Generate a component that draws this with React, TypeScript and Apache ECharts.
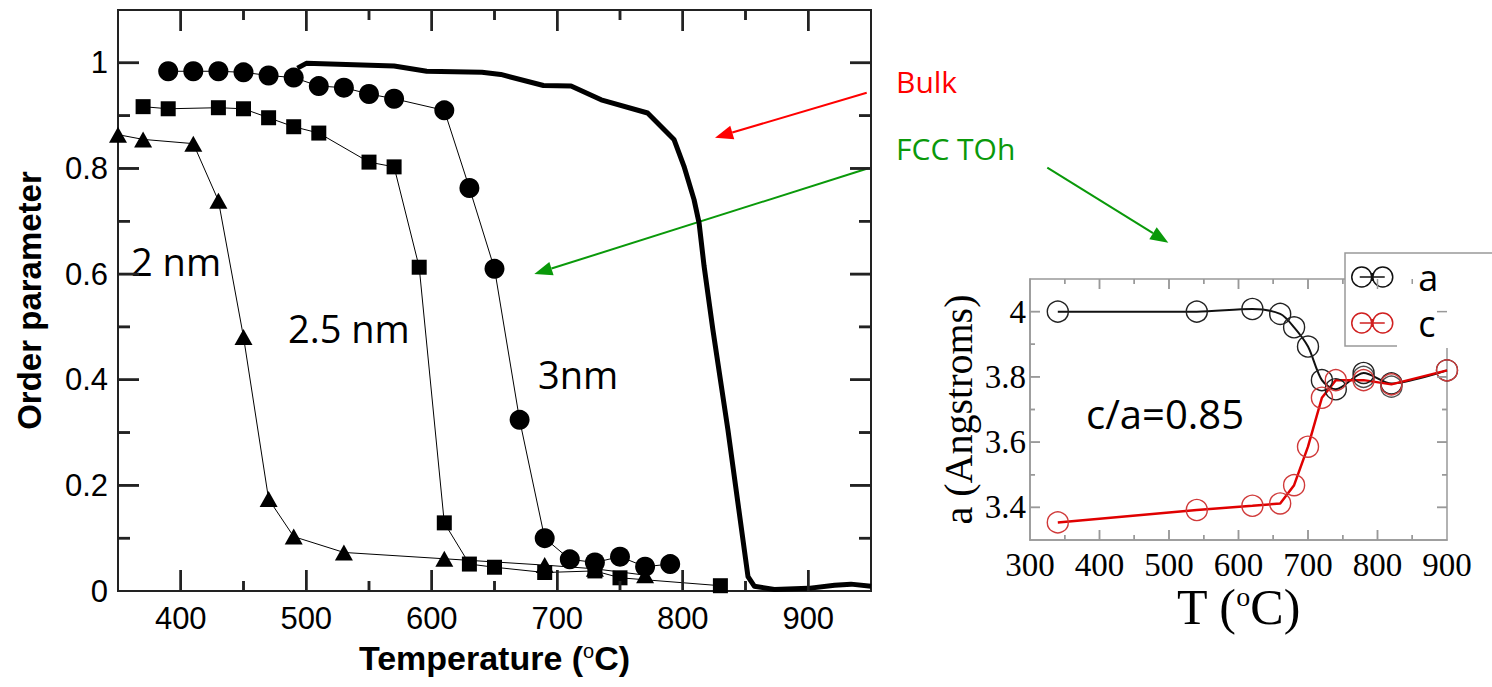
import React, { useEffect, useRef } from 'react';
import * as echarts from 'echarts';

// ---- Main chart data (Order parameter vs Temperature) ----
const bulkT = [493, 500, 570, 596, 640, 655, 689, 711, 735, 772, 793, 801, 809, 813, 817, 824, 836, 852, 857, 873, 900, 921, 934, 950];
const bulkV = [0.99, 0.999, 0.994, 0.984, 0.982, 0.978, 0.957, 0.956, 0.93, 0.905, 0.855, 0.804, 0.741, 0.697, 0.615, 0.495, 0.305, 0.027, 0.009, 0.003, 0.005, 0.011, 0.013, 0.009];

const nm3T = [390, 410, 430, 450, 470, 490, 510, 530, 550, 570, 610, 630, 650, 670, 690, 710, 730, 750, 770, 790];
const nm3V = [0.984, 0.984, 0.984, 0.982, 0.976, 0.972, 0.956, 0.953, 0.941, 0.932, 0.91, 0.763, 0.61, 0.324, 0.1, 0.06, 0.054, 0.065, 0.046, 0.051];

const nm25T = [370, 390, 430, 450, 470, 490, 510, 550, 570, 590, 610, 630, 650, 690, 730, 750, 830];
const nm25V = [0.917, 0.913, 0.915, 0.913, 0.896, 0.879, 0.867, 0.812, 0.803, 0.613, 0.129, 0.051, 0.045, 0.035, 0.038, 0.025, 0.01];

const nm2T = [350, 370, 410, 430, 450, 470, 490, 530, 610, 690, 730, 770];
const nm2V = [0.864, 0.855, 0.847, 0.739, 0.481, 0.174, 0.103, 0.073, 0.061, 0.049, 0.042, 0.03];

// tick positions of the main plot
const mainXMajor = [400, 500, 600, 700, 800, 900];
const mainXMinor = [450, 550, 650, 750, 850];
const mainYMajor = [0.2, 0.4, 0.6, 0.8, 1];
const mainYMinor = [0.1, 0.3, 0.5, 0.7, 0.9];

// ---- Inset data (lattice parameters vs T) ----
const aT = [340, 540, 620, 660, 680, 700, 720, 740, 780, 820, 900];
const aV = [4.0, 4.0, 4.008, 3.993, 3.952, 3.893, 3.79, 3.762, 3.812, 3.78, 3.82];
const aExtraT = [780, 820];
const aExtraV = [3.8, 3.77];
const cT = [340, 540, 620, 660, 680, 700, 720, 740, 780, 820, 900];
const cV = [3.354, 3.392, 3.405, 3.412, 3.468, 3.586, 3.736, 3.79, 3.79, 3.777, 3.82];

// tick positions of the inset
const insetXMajor = [400, 500, 600, 700, 800];
const insetXMinor = [350, 450, 550, 650, 750, 850];
const insetYMajor = [3.4, 3.6, 3.8, 4.0];
const insetYMinor = [3.5, 3.7, 3.9];

const SANS = "'Liberation Sans', Arial, Helvetica, sans-serif";
const SERIF = "'Liberation Serif', 'Times New Roman', serif";
const CAL = "'Open Sans', 'Noto Sans', sans-serif";

const zip = (xs: number[], ys: number[]) => xs.map((x, i) => [x, ys[i]]);

function arrow(x1: number, y1: number, x2: number, y2: number, color: string) {
  const dx = x2 - x1, dy = y2 - y1;
  const len = Math.hypot(dx, dy);
  const ux = dx / len, uy = dy / len;
  const hl = 18, hw = 7;
  const bx = x2 - ux * hl, by = y2 - uy * hl;
  return [
    { type: 'line', silent: true, shape: { x1, y1, x2: bx, y2: by }, style: { stroke: color, lineWidth: 2 } },
    {
      type: 'polygon', silent: true,
      shape: { points: [[x2, y2], [bx - uy * hw, by + ux * hw], [bx + uy * hw, by - ux * hw]] },
      style: { fill: color },
    },
  ];
}

const MAIN_C = '#222';
const INSET_C = '#999';

const MX = { min: 350, max: 950 };
const MY = { min: 0, max: 1.1 };
const IX = { min: 300, max: 900 };
const IY = { min: 3.3, max: 4.1 };

type Range = { min: number; max: number };
type TickSet = { idx: number; values: number[]; dim: 'x' | 'y'; xr: Range; yr: Range; len: number; color: string; width: number };

const tickSets: TickSet[] = [
  { idx: 0, values: mainXMinor, dim: 'x', xr: MX, yr: MY, len: 10, color: MAIN_C, width: 2.5 },
  { idx: 0, values: mainXMajor, dim: 'x', xr: MX, yr: MY, len: 21, color: MAIN_C, width: 2.5 },
  { idx: 0, values: mainYMinor, dim: 'y', xr: MX, yr: MY, len: 12, color: MAIN_C, width: 2.5 },
  { idx: 0, values: mainYMajor, dim: 'y', xr: MX, yr: MY, len: 21, color: MAIN_C, width: 2.5 },
  { idx: 1, values: insetXMinor, dim: 'x', xr: IX, yr: IY, len: 5, color: INSET_C, width: 1.5 },
  { idx: 1, values: insetXMajor, dim: 'x', xr: IX, yr: IY, len: 10, color: INSET_C, width: 1.5 },
  { idx: 1, values: insetYMinor, dim: 'y', xr: IX, yr: IY, len: 5, color: INSET_C, width: 1.5 },
  { idx: 1, values: insetYMajor, dim: 'y', xr: IX, yr: IY, len: 10, color: INSET_C, width: 1.5 },
];

// Inward ticks on both opposite edges as small filled rects; `toPx` maps data -> pixels
// through the axes' own scales.
function tickRects(t: TickSet, v: number, toPx: (p: number[]) => number[]) {
  const st = { fill: t.color };
  const w = t.width;
  if (t.dim === 'x') {
    const b = toPx([v, t.yr.min]);
    const top = toPx([v, t.yr.max]);
    return [
      { type: 'rect', shape: { x: b[0] - w / 2, y: b[1] - t.len, width: w, height: t.len }, style: st },
      { type: 'rect', shape: { x: top[0] - w / 2, y: top[1], width: w, height: t.len }, style: st },
    ];
  }
  const l = toPx([t.xr.min, v]);
  const r = toPx([t.xr.max, v]);
  return [
    { type: 'rect', shape: { x: l[0], y: l[1] - w / 2, width: t.len, height: w }, style: st },
    { type: 'rect', shape: { x: r[0] - t.len, y: r[1] - w / 2, width: t.len, height: w }, style: st },
  ];
}

function tickSeries(t: TickSet) {
  const data = t.dim === 'x' ? t.values.map((v) => [v, t.yr.min]) : t.values.map((v) => [t.xr.min, v]);
  return {
    type: 'custom', xAxisIndex: t.idx, yAxisIndex: t.idx, data, silent: true, clip: false, z: 6,
    renderItem: (_p: any, api: any) => {
      const v = t.dim === 'x' ? api.value(0) : api.value(1);
      return { type: 'group', children: tickRects(t, v, (p) => api.coord(p)) };
    },
  };
}

const legendIcon =
  'path://M1,10a10,10 0 1,0 20,0a10,10 0 1,0 -20,0M22,10a10,10 0 1,0 20,0a10,10 0 1,0 -20,0M9,10L34,10M21.5,6L21.5,14';

export default function App() {
  const ref = useRef<HTMLDivElement>(null);

  useEffect(() => {
    if (!ref.current) return;
    const chart = echarts.init(ref.current, null, { renderer: 'svg' });

    const openCircle = (border: string) => ({ color: 'rgba(0,0,0,0)', borderColor: border, borderWidth: 1.4 });

    const baseAxis = (grid: number, r: Range, color: string, width: number) => ({
      gridIndex: grid, type: 'value', min: r.min, max: r.max,
      axisLine: { show: true, onZero: false, lineStyle: { color, width } },
      axisTick: { show: false },
      minorTick: { show: false },
      splitLine: { show: false },
      minorSplitLine: { show: false },
    });

    const annotations = [
      { type: 'text', left: 131, top: 242, style: { text: '2 nm', fontFamily: CAL, fontSize: 38, fill: '#000' } },
      { type: 'text', left: 288, top: 309, style: { text: '2.5 nm', fontFamily: CAL, fontSize: 38, fill: '#000' } },
      { type: 'text', left: 538, top: 355, style: { text: '3nm', fontFamily: CAL, fontSize: 38, fill: '#000' } },
      { type: 'text', left: 896, top: 66, style: { text: 'Bulk', fontFamily: CAL, fontSize: 30, fill: '#ff0000' } },
      { type: 'text', left: 896, top: 133, style: { text: 'FCC TOh', fontFamily: CAL, fontSize: 30, fill: '#0a990a' } },
      { type: 'text', left: 1086, top: 393, style: { text: 'c/a=0.85', fontFamily: CAL, fontSize: 40, fill: '#000' } },
      ...arrow(866.7, 92.7, 715, 137.7, '#ff0000'),
      ...arrow(868.3, 168.3, 534.3, 274, '#0a990a'),
      ...arrow(1047.3, 167.7, 1168.3, 242.7, '#0a990a'),
      { type: 'rect', z: 100, silent: true, shape: { x: 1397, y: 343, width: 95, height: 5 }, style: { fill: '#fff' } },
    ];

    const option: any = {
      animation: false,
      backgroundColor: '#fff',
      grid: [
        { left: 118, top: 10, width: 753, height: 581, containLabel: false, outerBoundsMode: 'none', show: true, borderColor: MAIN_C, borderWidth: 2, backgroundColor: 'transparent' },
        { left: 1030, top: 279, width: 417, height: 261, containLabel: false, outerBoundsMode: 'none', show: true, borderColor: INSET_C, borderWidth: 1.5, backgroundColor: 'transparent' },
      ],
      xAxis: [
        {
          ...baseAxis(0, MX, MAIN_C, 2), position: 'bottom', interval: 50,
          axisLabel: {
            show: true, margin: 12, color: '#000', fontFamily: SANS, fontSize: 31,
            formatter: (v: number) => (Math.round(v) % 100 === 0 ? String(Math.round(v)) : ''),
          },
          name: 'Temperature ({s|o}C)', nameLocation: 'middle', nameGap: 50, nameMoveOverlap: false,
          nameTextStyle: {
            fontFamily: SANS, fontWeight: 'bold', fontSize: 34, color: '#000',
            rich: { s: { fontFamily: SANS, fontSize: 20, fontWeight: 'normal', color: '#000', verticalAlign: 'top' } },
          },
        },
        {
          ...baseAxis(1, IX, INSET_C, 1.5), position: 'bottom', interval: 100,
          axisLabel: { show: true, margin: 8, color: '#000', fontFamily: SERIF, fontSize: 33 },
          name: 'T ({s|o}C)', nameLocation: 'middle', nameGap: 42, nameMoveOverlap: false,
          nameTextStyle: {
            fontFamily: SERIF, fontSize: 50, color: '#000',
            rich: { s: { fontFamily: SERIF, fontSize: 28, color: '#000', verticalAlign: 'top' } },
          },
        },
      ],
      yAxis: [
        {
          ...baseAxis(0, MY, MAIN_C, 2), position: 'left', interval: 0.1,
          axisLabel: {
            show: true, margin: 10, color: '#000', fontFamily: SANS, fontSize: 31,
            formatter: (v: number) => {
              const r = Math.round(v * 10);
              return r % 2 === 0 && r <= 10 ? String(r / 10) : '';
            },
          },
          name: 'Order parameter', nameLocation: 'middle', nameGap: 72, nameRotate: 90, nameMoveOverlap: false,
          nameTextStyle: { fontFamily: SANS, fontWeight: 'bold', fontSize: 33, color: '#000' },
        },
        {
          ...baseAxis(1, IY, INSET_C, 1.5), position: 'left', interval: 0.1,
          axisLabel: {
            show: true, margin: 4, color: '#000', fontFamily: SERIF, fontSize: 33,
            formatter: (v: number) => {
              const r = Math.round(v * 10);
              return r % 2 === 0 && r >= 34 && r <= 40 ? String(r / 10) : '';
            },
          },
          name: 'a (Angstroms)', nameLocation: 'middle', nameGap: 52, nameRotate: 90, nameMoveOverlap: false,
          nameTextStyle: { fontFamily: SERIF, fontSize: 40, color: '#000' },
        },
      ],
      legend: {
        orient: 'vertical', left: 1345, top: 253,
        itemWidth: 44, itemHeight: 20, itemGap: 6,
        padding: [4, 100, 3, 6],
        backgroundColor: '#fff', borderColor: '#999', borderWidth: 1.5, borderRadius: 0,
        selectedMode: false, z: 10,
        textStyle: { fontFamily: CAL, fontSize: 36, lineHeight: 40, color: '#000', padding: [0, 0, 0, 19] },
        data: [
          { name: 'a', icon: legendIcon, itemStyle: { color: 'rgba(0,0,0,0)', borderColor: '#111', borderWidth: 1.5 } },
          { name: 'c', icon: legendIcon, itemStyle: { color: 'rgba(0,0,0,0)', borderColor: '#d02020', borderWidth: 1.5 } },
        ],
      },
      series: [
        ...tickSets.map(tickSeries),
        {
          name: 'Bulk', type: 'line', xAxisIndex: 0, yAxisIndex: 0, data: zip(bulkT, bulkV),
          symbol: 'none', showSymbol: false, clip: false, z: 3,
          lineStyle: { color: '#000', width: 5, join: 'round' },
        },
        {
          name: '3nm', type: 'line', xAxisIndex: 0, yAxisIndex: 0, data: zip(nm3T, nm3V),
          symbol: 'circle', symbolSize: 20, clip: false,
          itemStyle: { color: '#000' }, lineStyle: { color: '#000', width: 1 },
        },
        {
          name: '2.5 nm', type: 'line', xAxisIndex: 0, yAxisIndex: 0, data: zip(nm25T, nm25V),
          symbol: 'rect', symbolSize: 15, clip: false,
          itemStyle: { color: '#000' }, lineStyle: { color: '#000', width: 1 },
        },
        {
          name: '2 nm', type: 'line', xAxisIndex: 0, yAxisIndex: 0, data: zip(nm2T, nm2V),
          symbol: 'triangle', symbolSize: [18, 16], clip: false,
          itemStyle: { color: '#000' }, lineStyle: { color: '#000', width: 1 },
        },
        {
          name: 'a', type: 'line', xAxisIndex: 1, yAxisIndex: 1, data: zip(aT, aV),
          smooth: 0.3, symbol: 'circle', symbolSize: 21, clip: false,
          itemStyle: openCircle('#222'), lineStyle: { color: '#111', width: 2 },
        },
        {
          name: 'a', type: 'scatter', xAxisIndex: 1, yAxisIndex: 1, data: zip(aExtraT, aExtraV),
          symbol: 'circle', symbolSize: 21, clip: false, itemStyle: openCircle('#222'),
        },
        {
          name: 'c', type: 'line', xAxisIndex: 1, yAxisIndex: 1, data: zip(cT, cV),
          symbol: 'circle', symbolSize: 21, clip: false,
          itemStyle: openCircle('#d03a3a'), lineStyle: { color: '#e00000', width: 2.5 },
        },
      ],
      graphic: annotations,
    };

    chart.setOption(option);

    // Backup drawing of the same ticks as graphic rects, placed through the axes' scales.
    const ticks: any[] = [];
    tickSets.forEach((t) => {
      const toPx = (p: number[]) =>
        chart.convertToPixel({ xAxisIndex: t.idx, yAxisIndex: t.idx } as any, p) as unknown as number[];
      t.values.forEach((v) => {
        tickRects(t, v, toPx).forEach((r: any) => {
          if ([r.shape.x, r.shape.y].every((n: number) => Number.isFinite(n))) {
            ticks.push({ ...r, silent: true, z: 60 });
          }
        });
      });
    });
    chart.setOption({ graphic: [...annotations, ...ticks] }, { replaceMerge: ['graphic'] } as any);

    return () => chart.dispose();
  }, []);

  return (
    <div
      ref={ref}
      style={{ position: 'absolute', left: 0, top: 0, width: 1492, height: 687, background: '#fff' }}
    />
  );
}
